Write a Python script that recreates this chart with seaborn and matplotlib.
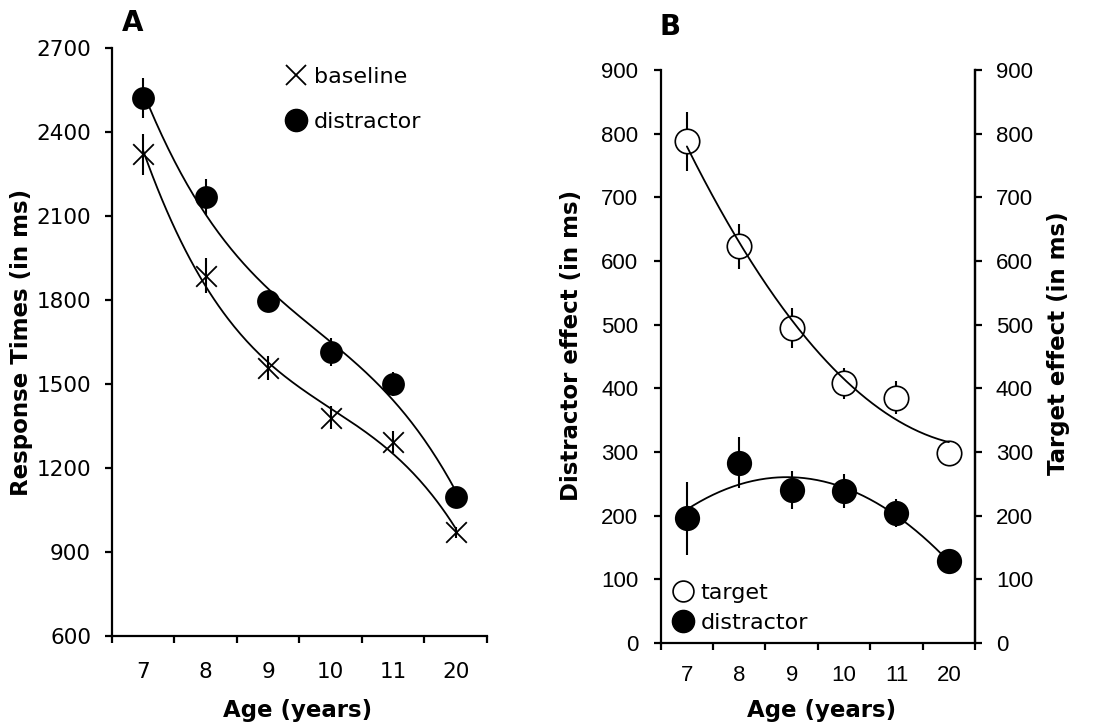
import numpy as np
import pandas as pd
import matplotlib
matplotlib.use("Agg")
import matplotlib.pyplot as plt
from matplotlib.lines import Line2D
import seaborn as sns

# ---- data ----
ages = ["7", "8", "9", "10", "11", "20"]

rt_baseline = [2320, 1886, 1556, 1380, 1293, 970]
rt_baseline_err = [73, 62, 43, 41, 39, 20]
rt_distractor = [2521, 2168, 1795, 1614, 1500, 1098]
rt_distractor_err = [71, 65, 38, 50, 43, 25]

target_effect = [788, 623, 495, 408, 385, 298]
target_err = [46, 35, 31, 24, 26, 10]
distractor_effect = [196, 283, 240, 239, 204, 129]
distractor_err = [57, 40, 30, 27, 22, 10]

sns.set_style("ticks")
plt.rcParams["font.family"] = ["DejaVu Sans"]
plt.rcParams["axes.linewidth"] = 1.6
for key in ("text.color", "axes.labelcolor", "axes.edgecolor",
            "xtick.color", "ytick.color"):
    plt.rcParams[key] = "black"

pos = np.arange(len(ages))


def trendline(values, deg):
    """Polynomial trendline over the category positions (like Excel)"""
    coef = np.polyfit(pos, values, deg)
    xs = np.linspace(pos[0], pos[-1], 200)
    return pd.DataFrame({"x": xs, "y": np.polyval(coef, xs)})


def style_category_axis(ax, pad):
    ax.set_xlim(-0.5, len(ages) - 0.5)
    ax.set_xticks(np.arange(-0.5, len(ages), 1))
    ax.set_xticklabels([])
    ax.set_xticks(pos, minor=True)
    ax.set_xticklabels(ages, minor=True)
    ax.tick_params(axis="x", which="major", length=5, width=1.6, direction="out")
    ax.tick_params(axis="x", which="minor", length=0, pad=pad)


fig = plt.figure(figsize=(11.03, 7.26), dpi=100)

# ---------------- Panel A ----------------
axA = fig.add_axes([0.1015, 0.124, 0.34, 0.81])

axA.errorbar(pos, rt_distractor, yerr=rt_distractor_err, fmt="none",
             ecolor="black", elinewidth=1.5, capsize=0, zorder=2)
axA.errorbar(pos, rt_baseline, yerr=rt_baseline_err, fmt="none",
             ecolor="black", elinewidth=1.5, capsize=0, zorder=2)
sns.scatterplot(x=pos, y=rt_distractor, marker="o", s=270, color="black",
                linewidth=0, ax=axA, zorder=3)
sns.scatterplot(x=pos, y=rt_baseline, marker="x", s=220, color="black",
                linewidth=1.3, ax=axA, zorder=3)
for vals in (rt_distractor, rt_baseline):
    tl = trendline(vals, 3)
    sns.lineplot(data=tl, x="x", y="y", color="black", linewidth=1.3,
                 ax=axA, zorder=4)

axA.set_ylim(600, 2700)
axA.set_yticks(np.arange(600, 2701, 300))
axA.tick_params(axis="y", length=5, width=1.6, pad=10, labelsize=15.5)
style_category_axis(axA, pad=19)
for lab in axA.get_xticklabels(minor=True):
    lab.set_fontsize(15.5)
sns.despine(ax=axA)

axA.set_xlabel("Age (years)", fontsize=16.5, fontweight="bold")
axA.xaxis.set_label_coords(0.496, -0.126)
axA.xaxis.label.set_verticalalignment("center")
axA.set_ylabel("Response Times (in ms)", fontsize=16.5, fontweight="bold")
axA.yaxis.set_label_coords(-0.24, 0.5)
axA.yaxis.label.set_verticalalignment("center")

handlesA = [
    Line2D([], [], marker="x", color="black", linestyle="none",
           markersize=15, markeredgewidth=1.3),
    Line2D([], [], marker="o", color="black", linestyle="none", markersize=16),
]
axA.legend(handlesA, ["baseline", "distractor"], loc="upper left",
           bbox_to_anchor=(0.461, 0.968), frameon=False, fontsize=16,
           handlelength=1.0, handletextpad=0.3, labelspacing=1.12,
           borderpad=0, borderaxespad=0)

# ---------------- Panel B ----------------
axB = fig.add_axes([0.599, 0.1143, 0.285, 0.7893])

axB.errorbar(pos, target_effect, yerr=target_err, fmt="none",
             ecolor="black", elinewidth=1.5, capsize=0, zorder=2)
axB.errorbar(pos, distractor_effect, yerr=distractor_err, fmt="none",
             ecolor="black", elinewidth=1.5, capsize=0, zorder=2)
sns.scatterplot(x=pos, y=target_effect, marker="o", s=310, color="white",
                edgecolor="black", linewidth=1.2, ax=axB, zorder=3)
sns.scatterplot(x=pos, y=distractor_effect, marker="o", s=330, color="black",
                linewidth=0, ax=axB, zorder=3)
for vals in (target_effect, distractor_effect):
    tl = trendline(vals, 2)
    sns.lineplot(data=tl, x="x", y="y", color="black", linewidth=1.3,
                 ax=axB, zorder=4)

axB.set_ylim(0, 900)
axB.set_yticks(np.arange(0, 901, 100))
axB.tick_params(axis="y", length=5, width=1.6, pad=11, labelsize=16)
style_category_axis(axB, pad=16)
for lab in axB.get_yticklabels() + axB.get_xticklabels(minor=True):
    lab.set_fontfamily("Liberation Sans")
    lab.set_fontsize(16)
sns.despine(ax=axB, right=False)

axB.set_xlabel("Age (years)", fontsize=16.5, fontweight="bold")
axB.xaxis.set_label_coords(0.513, -0.117)
axB.xaxis.label.set_verticalalignment("center")
axB.set_ylabel("Distractor effect (in ms)", fontsize=16.5, fontweight="bold")
axB.yaxis.set_label_coords(-0.283, 0.52)
axB.yaxis.label.set_verticalalignment("center")

axR = axB.twinx()
axR.set_ylim(0, 900)
axR.set_yticks(np.arange(0, 901, 100))
axR.tick_params(axis="y", length=5, width=1.6, pad=10, labelsize=16)
for lab in axR.get_yticklabels():
    lab.set_fontfamily("Liberation Sans")
axR.spines["top"].set_visible(False)
axR.spines["left"].set_visible(False)
axR.spines["bottom"].set_visible(False)
axR.set_ylabel("Target effect (in ms)", fontsize=16.5, fontweight="bold")
axR.yaxis.set_label_coords(1.264, 0.524)
axR.yaxis.label.set_verticalalignment("center")

handlesB = [
    Line2D([], [], marker="o", color="white", markeredgecolor="black",
           markeredgewidth=1.2, linestyle="none", markersize=15),
    Line2D([], [], marker="o", color="black", linestyle="none", markersize=16),
]
axB.legend(handlesB, ["target", "distractor"], loc="lower left",
           bbox_to_anchor=(0.035, 0.017), frameon=False, fontsize=16,
           handlelength=1.0, handletextpad=0.3, labelspacing=0.47,
           borderpad=0, borderaxespad=0)

# panel letters
fig.text(133 / 1103, 1 - 23 / 726, "A", fontsize=20, fontweight="bold",
         ha="center", va="center")
fig.text(670 / 1103, 1 - 27 / 726, "B", fontsize=20, fontweight="bold",
         ha="center", va="center")

fig.savefig("out.png", dpi=100)
